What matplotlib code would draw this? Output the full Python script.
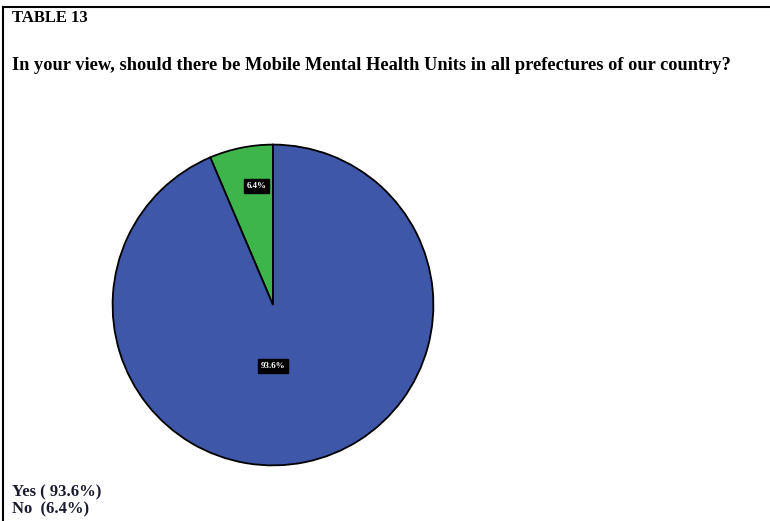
import numpy as np
import matplotlib.pyplot as plt
from matplotlib.lines import Line2D

table_title = "TABLE 13"
question = "In your view, should there be Mobile Mental Health Units in all prefectures of our country?"
categories = ["No", "Yes"]
shares = [6.4, 93.6]
colors = ["#3DB54A", "#3F57A9"]
legend_lines = ["Yes ( 93.6%)", "No  (6.4%)"]

# label placement inside each wedge: (angle in degrees, radius fraction)
LABEL_POS = [(98, 0.75), (270, 0.38)]

plt.rcParams["font.family"] = ["Liberation Serif", "DejaVu Serif"]

fig = plt.figure(figsize=(7.7, 5.21), dpi=100)

# frame (top + left only)
fig.add_artist(Line2D([3 / 770, 1.0], [1 - 7 / 521, 1 - 7 / 521], color="black", lw=1.5))
fig.add_artist(Line2D([3 / 770, 3 / 770], [0, 1 - 7 / 521], color="black", lw=1.5))

fig.text(12 / 770, 1 - 18 / 521, table_title, fontsize=12, fontweight="bold", va="center")
fig.text(12 / 770, 1 - 65 / 521, question, fontsize=13.2, fontweight="bold", va="center")

ax = fig.add_axes([111 / 770, 1 - 467 / 521, 324 / 770, 324 / 521])
wedges, _ = ax.pie(shares, colors=colors, startangle=90, counterclock=True,
                   wedgeprops=dict(edgecolor="black", linewidth=1.3))
for val, (a, d) in zip(shares, LABEL_POS):
    ang = np.deg2rad(a)
    ax.text(d * np.cos(ang), d * np.sin(ang), f"{val}%", ha="center", va="center",
            fontsize=6.5, color="white", fontweight="bold",
            bbox=dict(boxstyle="square,pad=0.3", fc="black", ec="black"))
ax.set_xlim(-1.01, 1.01)
ax.set_ylim(-1.01, 1.01)
ax.set_aspect("equal")
ax.axis("off")

for i, line in enumerate(legend_lines):
    fig.text(12 / 770, 1 - (492 + 17 * i) / 521, line, fontsize=12, fontweight="bold",
             va="center", color="#1a1a2e")

fig.savefig("out.png", dpi=100, facecolor="white")
